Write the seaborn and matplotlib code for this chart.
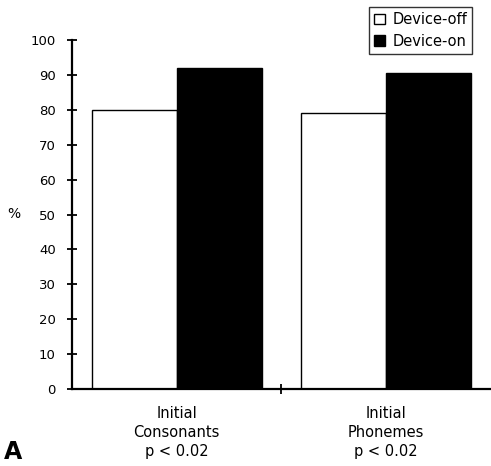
import seaborn as sns
import matplotlib.pyplot as plt
import pandas as pd
from matplotlib.ticker import FixedLocator

categories = ["Initial\nConsonants\np < 0.02", "Initial\nPhonemes\np < 0.02"]
conditions = ["Device-off", "Device-on"]
device_off = [80, 79]
device_on = [92, 90.5]

df = pd.DataFrame({
    "task": categories * 2,
    "condition": [conditions[0]] * 2 + [conditions[1]] * 2,
    "pct": device_off + device_on,
})

sns.set_style("white", {"xtick.bottom": True, "ytick.left": True})
plt.rcParams["font.family"] = ["DejaVu Sans"]
plt.rcParams["text.color"] = "black"
plt.rcParams["xtick.color"] = "black"
plt.rcParams["ytick.color"] = "black"

fig = plt.figure(figsize=(4.91, 4.66), dpi=100)
ax = fig.add_axes([0.1466, 0.165, 0.8534, 0.749])

sns.barplot(data=df, x="task", y="pct", hue="condition", order=categories,
            hue_order=conditions, palette=["white", "black"], edgecolor="black",
            linewidth=1.0, width=0.81, saturation=1, ax=ax)

ax.set_xlim(-0.5, 1.5)
ax.set_ylim(0, 100)
ax.set_yticks(range(0, 101, 10))
ax.tick_params(axis="y", direction="inout", length=7.5, width=1.3,
               labelsize=9.5, pad=8, colors="black")
ax.tick_params(axis="x", which="major", length=0, labelsize=10.5, pad=12,
               labelcolor="black")
for lbl in ax.get_xticklabels():
    lbl.set_linespacing(1.35)
ax.xaxis.set_minor_locator(FixedLocator([0.5]))
ax.tick_params(axis="x", which="minor", direction="inout", length=7.5, width=1.3,
               color="black")
for s in ["top", "right"]:
    ax.spines[s].set_visible(False)
for s in ["left", "bottom"]:
    ax.spines[s].set_linewidth(1.6)
    ax.spines[s].set_color("black")

ax.set_xlabel("")
ax.set_ylabel("")
fig.text(7 / 491, 1 - 214 / 466, "%", fontsize=10, ha="left", va="center",
         color="black")

leg = ax.legend(loc="upper right", bbox_to_anchor=(0.955, 1.095), fontsize=10.5,
                frameon=True, fancybox=False, edgecolor="black",
                handlelength=0.75, handleheight=0.75, handletextpad=0.5,
                borderpad=0.35, labelspacing=0.45, borderaxespad=0)
leg.get_frame().set_linewidth(1.0)
for t in leg.get_texts():
    t.set_color("black")

fig.text(0.008, 0.016, "A", fontsize=17, fontweight="bold", color="black")

fig.savefig("out.png", dpi=100)
